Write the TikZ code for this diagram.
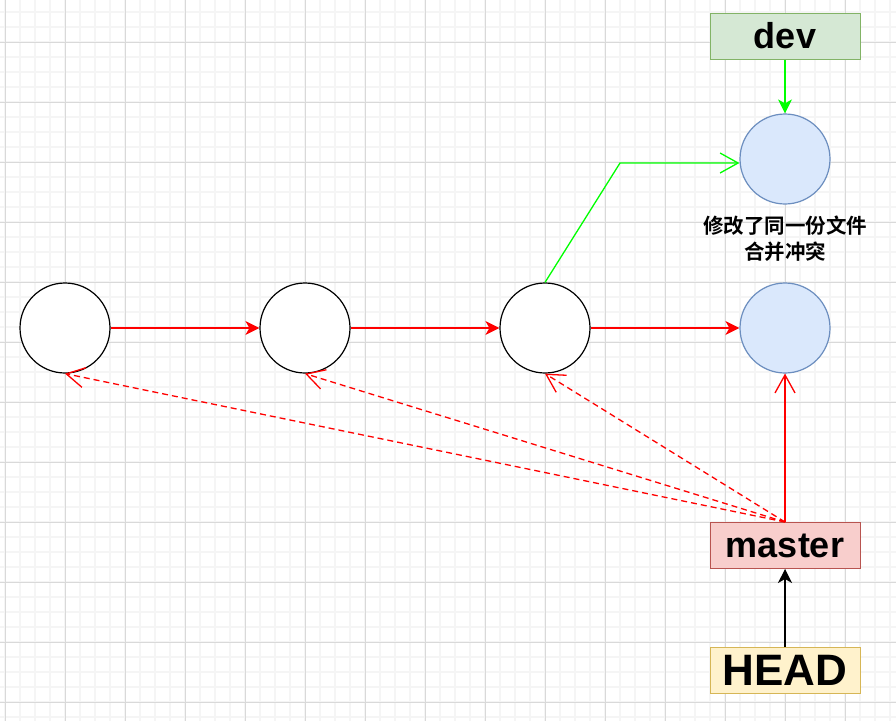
\documentclass[tikz,border=0pt]{standalone}
\usepackage{fontspec}
\setmainfont{Liberation Sans}
\newfontfamily\cjkbold{Noto Sans CJK SC Bold}
\usetikzlibrary{arrows.meta}
\definecolor{gridminor}{HTML}{F5F5F5}
\definecolor{gridmajor}{HTML}{D9D9D9}
\definecolor{blfill}{HTML}{DAE8FC}
\definecolor{bldraw}{HTML}{6C8EBF}
\definecolor{devfill}{HTML}{D5E8D4}
\definecolor{devdraw}{HTML}{82B366}
\definecolor{mstfill}{HTML}{F8CECC}
\definecolor{mstdraw}{HTML}{B85450}
\definecolor{hdfill}{HTML}{FFF2CC}
\definecolor{hddraw}{HTML}{D6B656}
\definecolor{pure red}{HTML}{FF0000}
\definecolor{pure green}{HTML}{00FF00}
\begin{document}
\begin{tikzpicture}[x=1pt,y=-1pt,
  commit/.style={circle,draw,line width=1.2pt,minimum size=90pt,inner sep=0pt,fill=white},
  newcommit/.style={commit,fill=blfill,draw=bldraw},
  branch/.style={draw,line width=1pt,minimum width=150pt,minimum height=46pt,inner sep=0pt,font=\bfseries\fontsize{36}{40}\selectfont},
  fullhead/.style={-{Stealth[length=14pt,width=14pt,inset=4pt]},line width=1.3pt},
  openhead/.style={-{Straight Barb[length=18pt,width=20pt]},line width=1.3pt}]
\useasboundingbox (0,0) rectangle (896,721);
\fill[white] (0,0) rectangle (896,721);
% grid
\foreach \x in {5,20,...,890} \draw[gridminor,line width=1.6pt] (\x,0) -- (\x,721);
\foreach \y in {12,27,...,717} \draw[gridminor,line width=1.6pt] (0,\y) -- (896,\y);
\foreach \x in {5,65,...,845} \draw[gridmajor,line width=0.8pt] (\x,0) -- (\x,721);
\foreach \y in {42,102,...,702} \draw[gridmajor,line width=0.8pt] (0,\y) -- (896,\y);
% commits
\node[commit] (c1) at (65,328) {};
\node[commit] (c2) at (305,328) {};
\node[commit] (c3) at (545,328) {};
\node[newcommit] (c4) at (785,328) {};
\node[newcommit] (c5) at (785,159) {};
\node[font=\cjkbold\fontsize{20.5}{26}\selectfont,align=center] (note) at (785,239) {修改了同一份文件\\合并冲突};
% branches
\node[branch,fill=devfill,draw=devdraw] (dev) at (785,36) {dev};
\node[branch,fill=mstfill,draw=mstdraw] (master) at (785,545.5) {master};
\node[branch,fill=hdfill,draw=hddraw,font=\bfseries\fontsize{44}{48}\selectfont] (head) at (785,670.5) {HEAD};
\coordinate (bend) at (620,163);
% edges
\draw[fullhead,pure red] (c1) -- (c2);
\draw[fullhead,pure red] (c2) -- (c3);
\draw[fullhead,pure red] (c3) -- (c4);
\draw[openhead,pure red] (master.north) -- (c4.south);
\foreach \c in {c1,c2,c3}
  \draw[openhead,pure red,dash pattern=on 6pt off 4pt] (master.north) -- (\c.south);
\draw[openhead,pure green] (c3.north) -- (bend) -- (bend -| c5.west);
\draw[fullhead,pure green] (dev) -- (c5);
\draw[fullhead,black] (head) -- (master);
\end{tikzpicture}
\end{document}
